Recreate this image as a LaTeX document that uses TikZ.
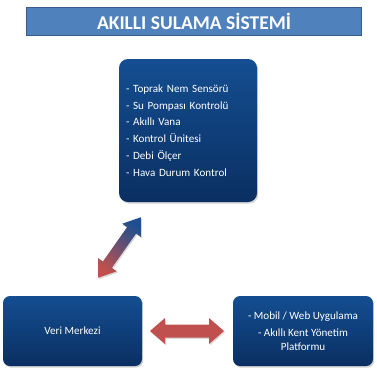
\documentclass[tikz,border=0pt]{standalone}
\usepackage{fontspec}
\setmainfont{Carlito}
\usetikzlibrary{shadows,calc}

\definecolor{boxtop}{RGB}{20,78,145}
\definecolor{boxbot}{RGB}{10,47,98}
\definecolor{bannerfill}{RGB}{79,129,189}
\definecolor{bannerline}{RGB}{56,93,138}
\definecolor{arrowred}{RGB}{192,80,77}
\definecolor{arrowblue}{RGB}{31,79,143}

\begin{document}
\begin{tikzpicture}[x=1pt,y=-1pt,
  panel/.style={rounded corners=7pt, top color=boxtop, bottom color=boxbot,
    draw=none, text=white, inner sep=7pt,
    drop shadow={opacity=0.35, shadow xshift=1.2pt, shadow yshift=-1.6pt}},
  banner/.style={fill=bannerfill, draw=bannerline, line width=1.6pt,
    text=white, font=\fontsize{19.5}{22}\bfseries\selectfont},
  fatarrow/.style={draw=none,
    drop shadow={opacity=0.3, shadow xshift=1pt, shadow yshift=-1.4pt}}
]
\useasboundingbox (0,0) rectangle (377,373);

% title banner
\node[banner, minimum width=335pt, minimum height=28pt, inner sep=0pt]
  (title) at (194,21.5) {AKILLI SULAMA SİSTEMİ};

% component list
\node[panel, rounded corners=9pt, minimum width=138pt, minimum height=143pt,
  text width=124pt, align=left, font=\fontsize{11.1}{16.8}\selectfont]
  (parts) at (188,130.5) {%
  - Toprak Nem Sensörü\\
  - Su Pompası Kontrolü\\
  - Akıllı Vana\\
  - Kontrol Ünitesi\\
  - Debi Ölçer\\
  - Hava Durum Kontrol};

% data centre
\node[panel, minimum width=139pt, minimum height=70pt,
  font=\fontsize{11.1}{13.5}\selectfont]
  (dc) at (72.5,331) {Veri Merkezi};

% applications
\node[panel, minimum width=140pt, minimum height=70pt, align=center,
  font=\fontsize{11.1}{13.5}\selectfont]
  (apps) at (303,331) {- Mobil / Web Uygulama\\[4pt]- Akıllı Kent Yönetim\\Platformu};

% horizontal double arrow between data centre and applications
\coordinate (hl) at (150,331);
\coordinate (hr) at (224,331);
\path[fatarrow, fill=arrowred]
  (hl) -- ($(hl)+(15,-13)$) -- ($(hl)+(15,-6.5)$) -- ($(hr)+(-15,-6.5)$)
  -- ($(hr)+(-15,-13)$) -- (hr) -- ($(hr)+(-15,13)$) -- ($(hr)+(-15,6.5)$)
  -- ($(hl)+(15,6.5)$) -- ($(hl)+(15,13)$) -- cycle;

% diagonal double arrow between data centre and component list
\begin{scope}[shift={(119.5,247.5)}, rotate=54.8, x=1pt, y=1pt]
\path[fatarrow, top color=arrowblue, bottom color=arrowred, shading angle=-35.2]
  (-37,0) -- (-21,11.5) -- (-21,5.5) -- (21,5.5) -- (21,11.5) -- (37,0)
  -- (21,-11.5) -- (21,-5.5) -- (-21,-5.5) -- (-21,-11.5) -- cycle;
\end{scope}
\end{tikzpicture}
\end{document}
